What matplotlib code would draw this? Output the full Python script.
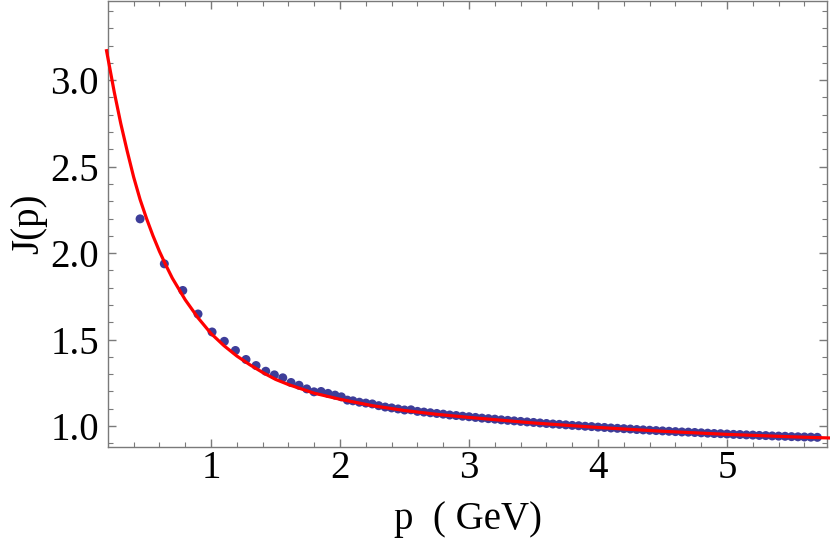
import matplotlib
matplotlib.use("Agg")
import matplotlib.pyplot as plt
from matplotlib.ticker import MultipleLocator, FormatStrFormatter

# points
p_pts = [0.450, 0.638, 0.781, 0.899, 1.008, 1.103, 1.189, 1.271, 1.349, 1.424,
         1.491, 1.556, 1.620, 1.682, 1.742, 1.798, 1.853, 1.907, 1.961, 2.010,
         2.057,
         2.10, 2.15, 2.20, 2.25, 2.30, 2.35, 2.40, 2.45, 2.50, 2.55,
         2.60, 2.65, 2.70, 2.75, 2.80, 2.85, 2.90, 2.95, 3.00, 3.05,
         3.10, 3.15, 3.20, 3.25, 3.30, 3.35, 3.40, 3.45, 3.50, 3.55,
         3.60, 3.65, 3.70, 3.75, 3.80, 3.85, 3.90, 3.95, 4.00, 4.05,
         4.10, 4.15, 4.20, 4.25, 4.30, 4.35, 4.40, 4.45, 4.50, 4.55,
         4.60, 4.65, 4.70, 4.75, 4.80, 4.85, 4.90, 4.95, 5.00, 5.05,
         5.10, 5.15, 5.20, 5.25, 5.30, 5.35, 5.40, 5.45, 5.50, 5.55,
         5.60, 5.65, 5.70]
j_pts = [2.198, 1.938, 1.784, 1.648, 1.544, 1.490, 1.437, 1.385, 1.350, 1.317,
         1.296, 1.279, 1.252, 1.236, 1.215, 1.198, 1.200, 1.189, 1.179, 1.169,
         1.150,
         1.146, 1.138, 1.133, 1.128, 1.118, 1.110, 1.105, 1.099, 1.093, 1.094,
         1.085, 1.081, 1.077, 1.073, 1.069, 1.064, 1.061, 1.057, 1.054, 1.050,
         1.046, 1.043, 1.040, 1.036, 1.033, 1.030, 1.027, 1.024, 1.021, 1.018,
         1.015, 1.012, 1.010, 1.007, 1.004, 1.002, 0.999, 0.997, 0.994, 0.992,
         0.989, 0.987, 0.985, 0.983, 0.980, 0.978, 0.976, 0.974, 0.972, 0.970,
         0.968, 0.966, 0.965, 0.963, 0.961, 0.959, 0.957, 0.956, 0.954, 0.952,
         0.951, 0.949, 0.948, 0.946, 0.945, 0.943, 0.942, 0.941, 0.939, 0.938,
         0.937, 0.936, 0.935]

# fitted curve
p_fit = [0.19, 0.25, 0.30, 0.35, 0.40, 0.45, 0.50, 0.55, 0.60, 0.65,
         0.70, 0.80, 0.90, 1.00, 1.10, 1.20, 1.30, 1.40, 1.50, 1.60,
         1.80, 2.00, 2.25, 2.50, 2.75, 3.00, 3.50, 4.00, 4.50, 5.00,
         5.50, 5.85]
j_fit = [3.17, 2.93, 2.75, 2.59, 2.44, 2.31, 2.20, 2.10, 2.01, 1.93,
         1.855, 1.73, 1.625, 1.535, 1.465, 1.405, 1.355, 1.31, 1.27, 1.24,
         1.19, 1.155, 1.118, 1.090, 1.068, 1.050, 1.018, 0.992, 0.970, 0.952,
         0.938, 0.930]

plt.rcParams['font.family'] = ['Liberation Serif', 'DejaVu Serif']
frame_col = '#7a7a7a'

fig = plt.figure(figsize=(8.3, 5.45), dpi=100)
ax = fig.add_axes([0.1307, 0.1798, 0.8657, 0.8182])

ax.scatter(p_pts, j_pts, s=42, color='#3d3d99', edgecolors='none', zorder=2)
ax.plot(p_fit, j_fit, color='#ff0000', lw=2.3, zorder=3, clip_on=False)

ax.set_xlim(0.205, 5.775)
ax.set_ylim(0.879, 3.457)

ax.xaxis.set_major_locator(MultipleLocator(1))
ax.xaxis.set_minor_locator(MultipleLocator(0.2))
ax.yaxis.set_major_locator(MultipleLocator(0.5))
ax.yaxis.set_minor_locator(MultipleLocator(0.1))
ax.xaxis.set_major_formatter(FormatStrFormatter('%d'))
ax.yaxis.set_major_formatter(FormatStrFormatter('%.1f'))

ax.tick_params(which='both', direction='in', top=True, right=True,
               color=frame_col, labelsize=28, labelcolor='black')
ax.tick_params(which='major', length=6, width=1)
ax.tick_params(which='minor', length=3.5, width=0.8)
ax.tick_params(axis='x', pad=2)
ax.tick_params(axis='y', pad=7)
for s in ax.spines.values():
    s.set_color(frame_col)
    s.set_linewidth(1)

ax.set_xlabel('p  ( GeV)', fontsize=28, labelpad=10)
ax.set_ylabel('J(p)', fontsize=28, labelpad=2)

fig.savefig('out.png', dpi=100)
